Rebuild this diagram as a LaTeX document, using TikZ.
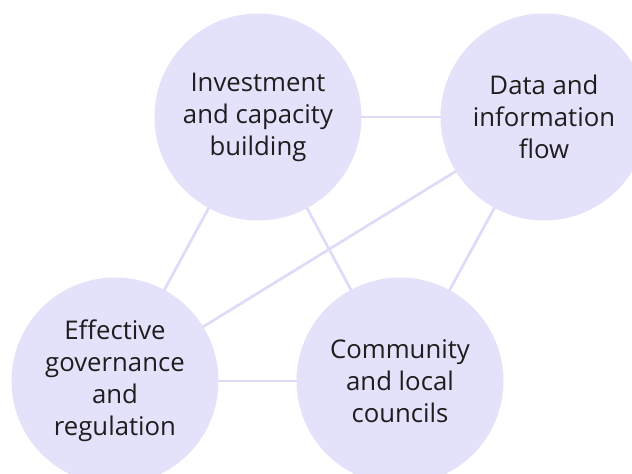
\documentclass[tikz,border=0pt]{standalone}
\usepackage{fontspec}
\setmainfont{Open Sans}
\definecolor{circfill}{HTML}{E4E1FA}
\definecolor{linkcol}{HTML}{DEDAF8}
\definecolor{txt}{HTML}{1E1E1E}
\begin{document}
\begin{tikzpicture}[x=0.75pt,y=-0.75pt,
  topic/.style={circle,fill=circfill,minimum size=207*0.75pt,inner sep=0pt,
    align=center,text=txt,font=\fontsize{19.3pt}{24pt}\selectfont},
  link/.style={draw=linkcol,line width=2pt}]
\useasboundingbox (0,0) rectangle (632,474);
\clip (0,0) rectangle (632,474);
\coordinate (I) at (258,117);
\coordinate (D) at (544,117);
\coordinate (E) at (115,381);
\coordinate (C) at (400,381);
\draw[link] (I) -- (D);
\draw[link] (I) -- (E);
\draw[link] (I) -- (C);
\draw[link] (D) -- (C);
\draw[link] (D) -- (E);
\draw[link] (E) -- (C);
\node[topic] (inv) at (I) {Investment\\and capacity\\building};
\node[topic] (dat) at (D) {Data and\\information\\flow};
\node[topic] (eff) at (E) {Effective\\governance\\and\\regulation};
\node[topic] (com) at (C) {Community\\and local\\councils};
\end{tikzpicture}
\end{document}
